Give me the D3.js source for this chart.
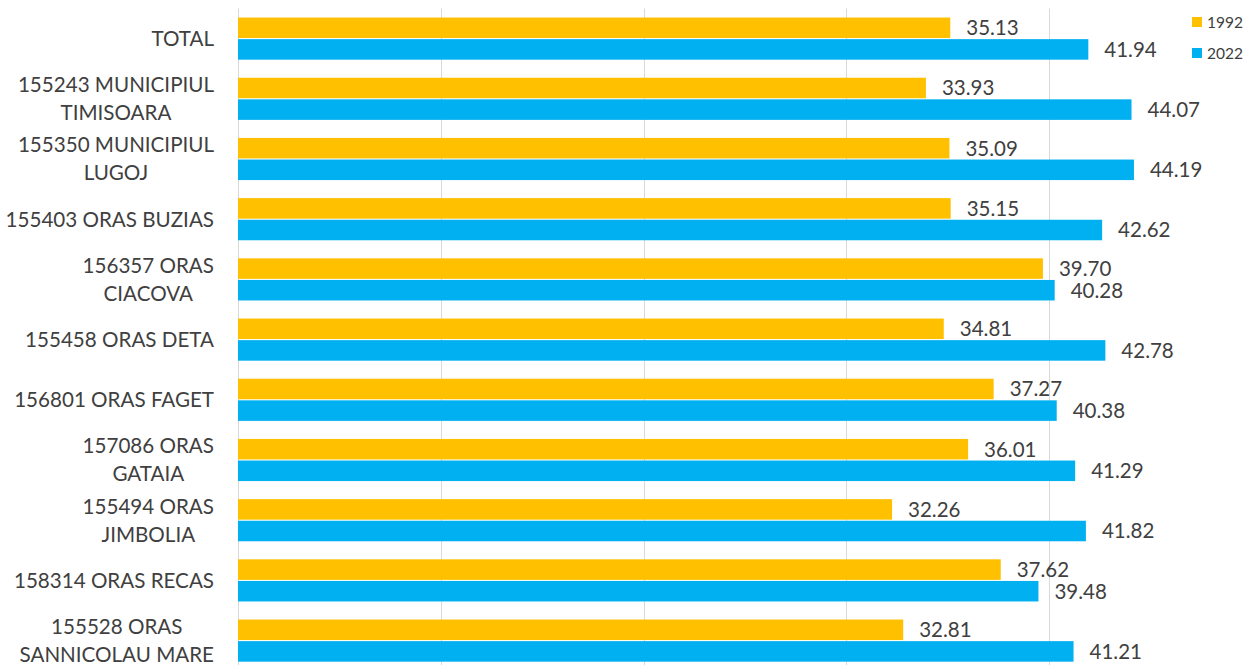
<!DOCTYPE html>
<html>
<head>
<meta charset="utf-8">
<script src="https://cdn.jsdelivr.net/npm/d3@7"></script>
<style>
  body { margin: 0; background: #fff; }
  svg { display: block; font-family: Lato, "Open Sans", sans-serif; }
</style>
</head>
<body>
<div class="chart"></div>
<script>
// Data
var categories = [
  "TOTAL",
  "155243 MUNICIPIUL\nTIMISOARA",
  "155350 MUNICIPIUL\nLUGOJ",
  "155403 ORAS BUZIAS",
  "156357 ORAS\nCIACOVA",
  "155458 ORAS DETA",
  "156801 ORAS FAGET",
  "157086 ORAS\nGATAIA",
  "155494 ORAS\nJIMBOLIA",
  "158314 ORAS RECAS",
  "155528 ORAS\nSANNICOLAU MARE"
];
var seriesNames = ["1992", "2022"];
var values1992 = [35.13, 33.93, 35.09, 35.15, 39.70, 34.81, 37.27, 36.01, 32.26, 37.62, 32.81];
var values2022 = [41.94, 44.07, 44.19, 42.62, 40.28, 42.78, 40.38, 41.29, 41.82, 39.48, 41.21];
var xTicks = [0, 10, 20, 30, 40, 50];

var colors = { "1992": "#FFC000", "2022": "#00B0F0" };

renderChart();

function renderChart() {
  var svgWidth = 1245, svgHeight = 665;
  var x0 = 238, plotTop = 8.5, step = 60.2;

  var svg = d3.select(".chart")
    .append("svg")
    .attr("width", svgWidth)
    .attr("height", svgHeight);

  var xScale = d3.scaleLinear().domain([0, 50]).range([x0, x0 + 50 * 20.275]);

  var yScale = d3.scaleBand()
    .domain(categories)
    .range([plotTop, plotTop + step * categories.length])
    .paddingInner(0.3)
    .paddingOuter(0.15);

  var ySub = d3.scaleBand()
    .domain(seriesNames)
    .range([0, yScale.bandwidth()])
    .paddingInner(0.05);

  // gridlines
  svg.append("g")
    .selectAll("line")
    .data(xTicks)
    .enter()
    .append("line")
    .attr("x1", function(d) { return Math.round(xScale(d)) + 0.5; })
    .attr("x2", function(d) { return Math.round(xScale(d)) + 0.5; })
    .attr("y1", plotTop)
    .attr("y2", svgHeight)
    .attr("stroke", "#d9d9d9")
    .attr("stroke-width", 1);

  var rows = categories.map(function(c, i) {
    return { cat: c, vals: [
      { name: "1992", value: values1992[i] },
      { name: "2022", value: values2022[i] }
    ] };
  });

  var groups = svg.append("g")
    .selectAll("g")
    .data(rows)
    .enter()
    .append("g")
    .attr("transform", function(d) { return "translate(0," + yScale(d.cat) + ")"; });

  groups.selectAll("rect")
    .data(function(d) { return d.vals; })
    .enter()
    .append("rect")
    .attr("x", xScale(0))
    .attr("y", function(d) { return ySub(d.name); })
    .attr("width", function(d) { return xScale(d.value) - xScale(0); })
    .attr("height", ySub.bandwidth())
    .attr("fill", function(d) { return colors[d.name]; });

  // data labels
  groups.selectAll("text")
    .data(function(d) { return d.vals; })
    .enter()
    .append("text")
    .attr("x", function(d) { return xScale(d.value) + 16; })
    .attr("y", function(d) { return ySub(d.name) + ySub.bandwidth() / 2; })
    .attr("dy", "0.36em")
    .attr("font-size", "20.5px")
    .attr("fill", "#404040")
    .text(function(d) { return d.value.toFixed(2); });

  // category axis
  var yAxis = d3.axisLeft(yScale).tickSize(0).tickPadding(0);
  var axisG = svg.append("g")
    .attr("transform", "translate(214,0)")
    .call(yAxis);
  axisG.select(".domain").remove();

  axisG.selectAll(".tick text").each(function(d) {
    var t = d3.select(this);
    var lines = d.split("\n");
    t.text(null)
      .attr("font-size", "20.6px")
      .attr("font-family", "Lato, 'Open Sans', sans-serif")
      .attr("fill", "#404040")
      .attr("dy", null);
    var spans = lines.map(function(line, i) {
      return t.append("tspan")
        .attr("y", (i - (lines.length - 1) / 2) * 28)
        .attr("dy", "0.36em")
        .text(line);
    });
    var maxW = d3.max(spans, function(s) { return s.node().getComputedTextLength(); });
    t.attr("text-anchor", "middle");
    spans.forEach(function(s) { s.attr("x", -maxW / 2); });
  });

  // legend
  var legend = svg.append("g")
    .selectAll("g")
    .data(seriesNames)
    .enter()
    .append("g")
    .attr("transform", function(d, i) { return "translate(1192," + (17 + i * 31) + ")"; });

  legend.append("rect")
    .attr("width", 10)
    .attr("height", 10)
    .attr("fill", function(d) { return colors[d]; });

  legend.append("text")
    .attr("x", 15)
    .attr("y", 5)
    .attr("dy", "0.36em")
    .attr("font-size", "15.5px")
    .attr("fill", "#404040")
    .text(function(d) { return d; });
}
</script>
</body>
</html>
